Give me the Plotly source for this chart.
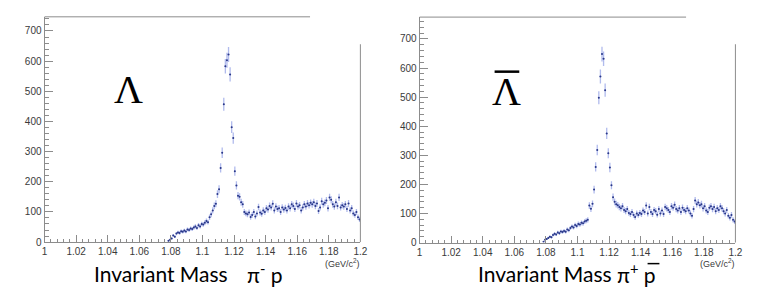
import numpy as np
import plotly.graph_objects as go

W, H = 766, 291

# ---------------- data ----------------
bin_low = 1.078
bin_width = 0.001

lambda_counts = [
    4, 8, 12, 22, 18, 28, 32, 30, 36, 34,
    38, 35, 42, 40, 45, 43, 48, 52, 47, 56,
    52, 60, 58, 64, 70, 66, 82, 92, 105, 120,
    127, 159, 175, 246, 296, 457, 583, 603, 622, 556,
    381, 345, 235, 188, 154, 150, 132, 125, 100, 95,
    92, 98, 83, 90, 100, 85, 95, 116, 98, 94,
    105, 100, 112, 108, 120, 115, 127, 105, 118, 110,
    112, 100, 115, 108, 113, 105, 118, 112, 125, 120,
    110, 128, 118, 122, 105, 115, 125, 118, 128, 122,
    130, 125, 132, 120, 128, 103, 115, 135, 125, 130,
    138, 112, 148, 140, 125, 118, 132, 120, 148, 115,
    122, 118, 125, 110, 128, 105, 112, 95, 90, 100,
    82, 75,
]

antilambda_counts = [
    3, 10, 12, 16, 20, 18, 26, 30, 28, 35,
    32, 38, 36, 40, 37, 45, 42, 50, 55, 52,
    60, 57, 64, 62, 68, 66, 72, 75, 78, 127,
    116, 133, 182, 260, 318, 498, 571, 648, 632, 524,
    375, 307, 258, 197, 156, 140, 132, 128, 122, 118,
    125, 112, 108, 115, 102, 98, 105, 95, 88, 100,
    95, 102, 98, 110, 105, 127, 100, 122, 105, 98,
    112, 108, 96, 115, 100, 110, 98, 122, 118, 112,
    105, 125, 120, 130, 115, 110, 118, 105, 120, 112,
    108, 118, 110, 100, 92, 115, 145, 132, 138, 128,
    132, 118, 125, 110, 105, 120, 125, 115, 122, 108,
    118, 112, 125, 118, 108, 100, 112, 92, 85, 95,
    78, 72,
]

x_tick_vals = [1.0, 1.02, 1.04, 1.06, 1.08, 1.1, 1.12, 1.14, 1.16, 1.18, 1.2]
x_tick_text = ["1", "1.02", "1.04", "1.06", "1.08", "1.1", "1.12", "1.14", "1.16", "1.18", "1.2"]
y_tick_vals = [0, 100, 200, 300, 400, 500, 600, 700]
y_tick_text = ["0", "100", "200", "300", "400", "500", "600", "700"]


def px(x):
    return x / W


def py(y):
    return 1 - y / H


def centers(n):
    return bin_low + bin_width * (np.arange(n) + 0.5)


bar_col = "rgba(100,120,220,0.5)"
mk_col = "#2a3888"
frame_col = "#8c8c8c"
label_font = dict(family="Liberation Sans, Arial, sans-serif", size=10, color="#3a3a3a")

fig = go.Figure()
for counts, xa, ya in [(lambda_counts, "x", "y"), (antilambda_counts, "x2", "y2")]:
    c = np.array(counts, dtype=float)
    fig.add_trace(go.Scatter(
        x=centers(len(c)), y=c, mode="markers", xaxis=xa, yaxis=ya,
        marker=dict(size=2, color=mk_col),
        error_y=dict(type="data", array=np.sqrt(c), color=bar_col, thickness=1.3, width=0),
        error_x=dict(type="constant", value=bin_width / 2, color=bar_col, thickness=1, width=0),
        showlegend=False, hoverinfo="x+y",
    ))

common_x = dict(
    range=[1.0, 1.2], tickvals=x_tick_vals, ticktext=x_tick_text,
    ticks="inside", ticklen=7, tickcolor=frame_col, tickwidth=1,
    minor=dict(dtick=0.004, tick0=1.0, ticks="inside", ticklen=3, tickcolor=frame_col),
    showline=True, linecolor=frame_col, linewidth=1, mirror=False,
    showgrid=False, zeroline=False, tickfont=label_font,
)
common_y = dict(
    tickvals=y_tick_vals, ticktext=y_tick_text,
    ticks="inside", ticklen=8, tickcolor=frame_col, tickwidth=1,
    minor=dict(dtick=20, tick0=0, ticks="inside", ticklen=4, tickcolor=frame_col),
    showline=True, linecolor=frame_col, linewidth=1, mirror=False,
    showgrid=False, zeroline=False, tickfont=label_font,
)

fig.update_layout(
    width=W, height=H,
    margin=dict(l=0, r=0, t=0, b=0),
    paper_bgcolor="white", plot_bgcolor="white",
    xaxis=dict(domain=[px(34), px(354)], anchor="y", **common_x),
    yaxis=dict(domain=[py(239), py(9)], anchor="x", range=[0, 747], **common_y),
    xaxis2=dict(domain=[px(414), px(734)], anchor="y2", **common_x),
    yaxis2=dict(domain=[py(239.5), py(9.3)], anchor="x2", range=[0, 775], **common_y),
)

shapes = []
# partial top and right frame lines
for (x0, x1, ytop, xr, yr0, yr1) in [(34, 303, 9, 354, 37, 239), (414, 684, 9.3, 734, 37, 239.5)]:
    shapes.append(dict(type="line", xref="paper", yref="paper", x0=px(x0), x1=px(x1),
                       y0=py(ytop), y1=py(ytop), line=dict(color=frame_col, width=1)))
    shapes.append(dict(type="line", xref="paper", yref="paper", x0=px(xr), x1=px(xr),
                       y0=py(yr0), y1=py(yr1), line=dict(color=frame_col, width=1)))
# overline on anti-Lambda symbol
shapes.append(dict(type="line", xref="paper", yref="paper", x0=px(490), x1=px(515),
                   y0=py(65), y1=py(65), line=dict(color="black", width=2.5)))
# overline on anti-proton
shapes.append(dict(type="line", xref="paper", yref="paper", x0=px(645), x1=px(657),
                   y0=py(261), y1=py(261), line=dict(color="black", width=1.5)))
fig.update_layout(shapes=shapes)

serif = dict(family="Liberation Serif, Times New Roman, serif", size=40, color="black")
title_font = dict(family="Lato, Open Sans, sans-serif", size=21, color="black")
unit_font = dict(family="Liberation Sans, Arial, sans-serif", size=9, color="#3a3a3a")

ann = [
    dict(x=px(119), y=py(83), text="Λ", font=serif),
    dict(x=px(502), y=py(85), text="Λ", font=serif),
    dict(x=px(355), y=py(260), text="(GeV/c<sup>2</sup>)", font=unit_font, xanchor="right"),
    dict(x=px(735), y=py(260), text="(GeV/c<sup>2</sup>)", font=unit_font, xanchor="right"),
    dict(x=px(83), y=py(271), text="Invariant Mass", font=title_font, xanchor="left"),
    dict(x=px(238), y=py(271), text="π<sup>-</sup> p", font=title_font, xanchor="left"),
    dict(x=px(472), y=py(271), text="Invariant Mass", font=title_font, xanchor="left"),
    dict(x=px(613), y=py(271), text="π<sup>+</sup> p", font=title_font, xanchor="left"),
]
for a in ann:
    a.setdefault("xanchor", "center")
    a.update(xref="paper", yref="paper", yanchor="middle", showarrow=False, align="left",
             borderpad=0)
fig.update_layout(annotations=ann)

fig.write_html("out.html")
